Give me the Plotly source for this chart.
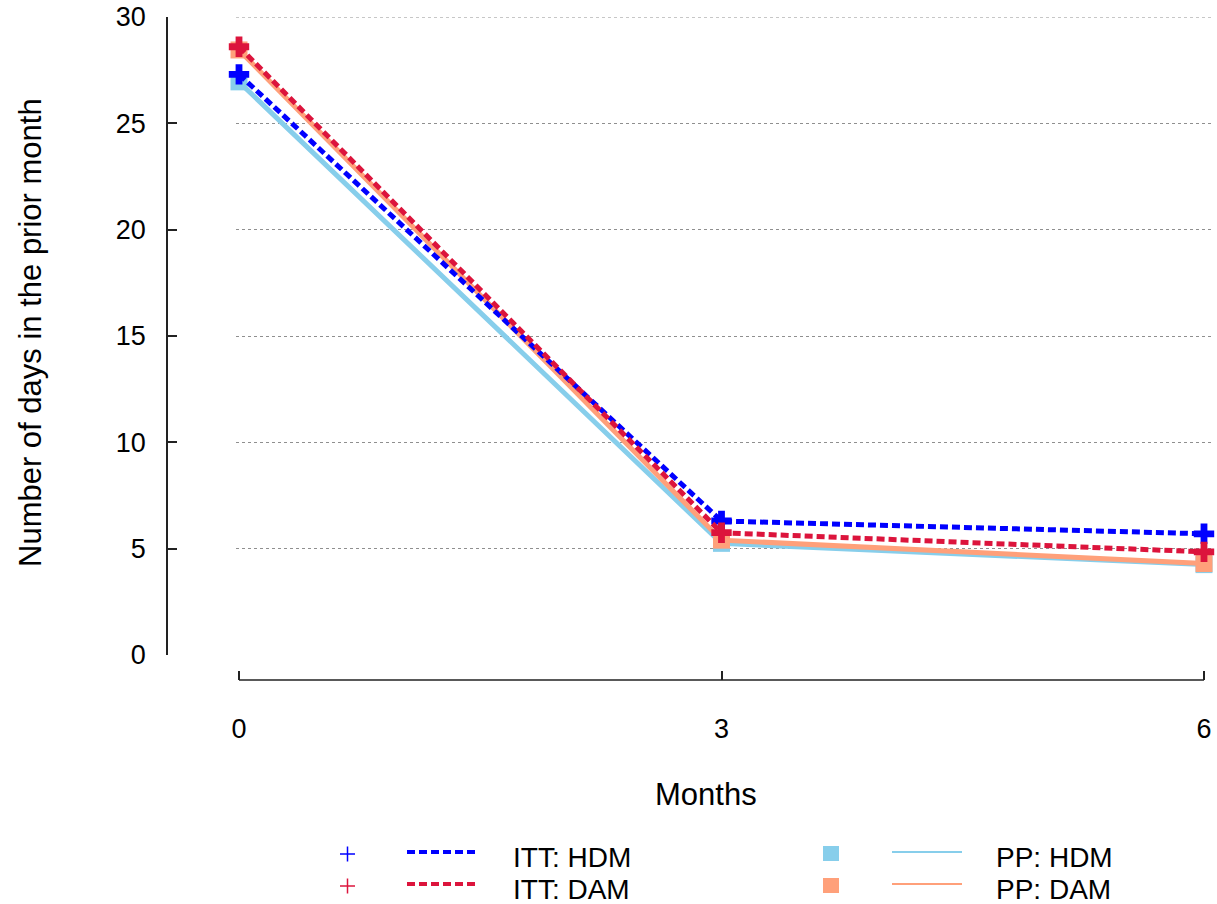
import plotly.graph_objects as go

# ---- data ----
months = [0, 3, 6]
itt_hdm = [27.3, 6.3, 5.7]
itt_dam = [28.6, 5.75, 4.85]
pp_hdm = [26.95, 5.25, 4.25]
pp_dam = [28.45, 5.4, 4.3]
y_ticks = [0, 5, 10, 15, 20, 25, 30]
x_ticks = [0, 3, 6]
legend_labels = ["ITT: HDM", "ITT: DAM", "PP: HDM", "PP: DAM"]

# ---- style ----
W, H = 1217, 904
BLUE = "#0000FF"
RED = "#DC143C"
SKY = "#87CEEB"
SALMON = "#FFA07A"
FONT = "Liberation Sans, Arial, sans-serif"


def px(x):
    return x / W


def py(y):
    return 1 - y / H


fig = go.Figure()

fig.add_trace(go.Scatter(x=months, y=pp_hdm, mode="lines+markers", name=legend_labels[2],
                         line=dict(color=SKY, width=5),
                         marker=dict(symbol="square", size=17, color=SKY),
                         cliponaxis=False, showlegend=False))
fig.add_trace(go.Scatter(x=months, y=pp_dam, mode="lines+markers", name=legend_labels[3],
                         line=dict(color=SALMON, width=5),
                         marker=dict(symbol="square", size=17, color=SALMON),
                         cliponaxis=False, showlegend=False))
fig.add_trace(go.Scatter(x=months, y=itt_hdm, mode="lines+markers", name=legend_labels[0],
                         line=dict(color=BLUE, width=5, dash="8px,4px"),
                         marker=dict(symbol="cross", size=17, color=BLUE),
                         cliponaxis=False, showlegend=False))
fig.add_trace(go.Scatter(x=months, y=itt_dam, mode="lines+markers", name=legend_labels[1],
                         line=dict(color=RED, width=5, dash="8px,4px"),
                         marker=dict(symbol="cross", size=17, color=RED),
                         cliponaxis=False, showlegend=False))

# axis geometry
x0_px, x6_px = 239, 1204
unit = (x6_px - x0_px) / 6
dom_l, dom_r = 236, 1211
xr = [0 - (x0_px - dom_l) / unit, 6 + (dom_r - x6_px) / unit]

fig.update_layout(
    width=W, height=H,
    margin=dict(l=0, r=0, t=0, b=0, autoexpand=False),
    paper_bgcolor="white", plot_bgcolor="white",
    font=dict(family=FONT, color="black"),
    xaxis=dict(domain=[px(dom_l), px(dom_r)], range=xr, anchor="free", position=py(680),
               tickvals=x_ticks, ticktext=[str(v) for v in x_ticks],
               ticks="inside", ticklen=9, tickwidth=1.5, tickcolor="#222",
               showline=False, showgrid=False, zeroline=False, automargin=False,
               tickfont=dict(size=27, family=FONT), ticklabelstandoff=30),
    yaxis=dict(domain=[py(655), py(17)], range=[0, 30], anchor="free", position=px(167),
               tickvals=y_ticks, ticktext=[str(v) for v in y_ticks],
               ticks="inside", ticklen=9, tickwidth=1.5, tickcolor="#222",
               showline=True, linecolor="#222", linewidth=1.5,
               showgrid=True, gridcolor="#8f8f8f", griddash="dot", gridwidth=1,
               zeroline=False, automargin=False,
               tickfont=dict(size=27, family=FONT), ticklabelstandoff=15),
)

# x axis line only across data range
fig.add_shape(type="line", xref="x", yref="paper", x0=months[0], x1=months[-1],
              y0=py(680), y1=py(680), line=dict(color="#222", width=1.5))
# top gridline (at the domain edge)
fig.add_shape(type="line", xref="paper", yref="y", x0=px(dom_l), x1=px(dom_r),
              y0=y_ticks[-1], y1=y_ticks[-1], line=dict(color="#8f8f8f", width=1, dash="dot"))

# axis titles
fig.add_annotation(text="Months", xref="paper", yref="paper", x=px(706), y=py(794),
                   showarrow=False, font=dict(size=31, family=FONT), xanchor="center", yanchor="middle")
fig.add_annotation(text="Number of days in the prior month", xref="paper", yref="paper",
                   x=px(30), y=py(333), textangle=-90, showarrow=False,
                   font=dict(size=31, family=FONT), xanchor="center", yanchor="middle")

# ---- manual legend ----
rows = [852, 884]
text_rows = [857, 889]
itt_cols = [BLUE, RED]
pp_cols = [SKY, SALMON]
for i in range(2):
    r = rows[i]
    # plus
    fig.add_shape(type="line", xref="paper", yref="paper", x0=px(340), x1=px(355), y0=py(r + 2), y1=py(r + 2),
                  line=dict(color=itt_cols[i], width=1.5))
    fig.add_shape(type="line", xref="paper", yref="paper", x0=px(347.5), x1=px(347.5), y0=py(r - 5.5), y1=py(r + 9.5),
                  line=dict(color=itt_cols[i], width=1.5))
    # dotted line
    fig.add_shape(type="line", xref="paper", yref="paper", x0=px(407), x1=px(478), y0=py(r), y1=py(r),
                  line=dict(color=itt_cols[i], width=4, dash="8px,4px"))
    fig.add_annotation(text=legend_labels[i], xref="paper", yref="paper", x=px(511), y=py(text_rows[i]),
                       showarrow=False, xanchor="left", yanchor="middle", font=dict(size=28, family=FONT))
    # square
    fig.add_shape(type="rect", xref="paper", yref="paper", x0=px(823), x1=px(839), y0=py(r - 6), y1=py(r + 9),
                  line=dict(width=0), fillcolor=pp_cols[i])
    fig.add_shape(type="line", xref="paper", yref="paper", x0=px(892), x1=px(962), y0=py(r), y1=py(r),
                  line=dict(color=pp_cols[i], width=2))
    fig.add_annotation(text=legend_labels[2 + i], xref="paper", yref="paper", x=px(994), y=py(text_rows[i]),
                       showarrow=False, xanchor="left", yanchor="middle", font=dict(size=28, family=FONT))

fig.write_html("out.html", config={"displayModeBar": False},
               post_script="document.body.style.margin='0';")
